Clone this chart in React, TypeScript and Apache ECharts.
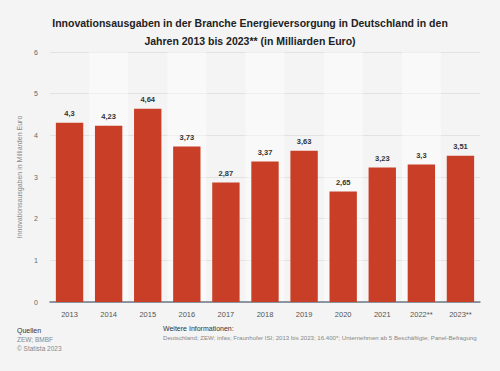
import React, { useEffect, useRef } from "react";
import * as echarts from "echarts";

const categories = ["2013", "2014", "2015", "2016", "2017", "2018", "2019", "2020", "2021", "2022**", "2023**"];
const values = [4.3, 4.23, 4.64, 3.73, 2.87, 3.37, 3.63, 2.65, 3.23, 3.3, 3.51];
const yTicks = [0, 1, 2, 3, 4, 5, 6];

const titleText = "Innovationsausgaben in der Branche Energieversorgung in Deutschland in den\nJahren 2013 bis 2023** (in Milliarden Euro)";

export default function App() {
  const ref = useRef<HTMLDivElement>(null);
  useEffect(() => {
    document.body.style.margin = "0";
    if (!ref.current) return;
    const chart = echarts.init(ref.current, null, { renderer: "svg" });
    const font = "Helvetica, Arial, 'Liberation Sans', sans-serif";
    chart.setOption({
      animation: false,
      backgroundColor: "#f4f4f4",
      textStyle: { fontFamily: font },
      title: {
        text: titleText,
        left: "center",
        top: 9,
        textStyle: { fontSize: 10.5, fontWeight: "bold", color: "#222", lineHeight: 18, fontFamily: font },
      },
      grid: { left: 50, right: 20, top: 52, bottom: 69 },
      xAxis: {
        type: "category",
        data: categories,
        axisLine: { show: true, lineStyle: { color: "#6b7a88", width: 1.5 } },
        axisTick: { show: false },
        axisLabel: { color: "#555", fontSize: 7.5, margin: 8 },
        splitArea: { show: true, areaStyle: { color: ["rgba(0,0,0,0)", "rgba(255,255,255,0.45)"] } },
      },
      yAxis: {
        type: "value",
        min: yTicks[0],
        max: yTicks[yTicks.length - 1],
        interval: 1,
        name: "Innovationsausgaben in Milliarden Euro",
        nameLocation: "middle",
        nameGap: 19,
        nameTextStyle: { color: "#888", fontSize: 7 },
        axisLine: { show: false },
        axisTick: { show: false },
        axisLabel: { color: "#666", fontSize: 7, margin: 12 },
        splitLine: { lineStyle: { color: "#e2e2e2", width: 1 } },
      },
      series: [
        {
          type: "bar",
          data: values,
          barWidth: "70%",
          itemStyle: { color: "#c93e26" },
          label: {
            show: true,
            position: "top",
            distance: 5,
            color: "#333",
            fontSize: 7.5,
            fontWeight: "bold",
            formatter: (p: any) => String(p.value).replace(".", ","),
          },
        },
      ],
      graphic: [
        { type: "text", left: 17, top: 327, style: { text: "Quellen", fontSize: 7, fill: "#333", fontFamily: font } },
        { type: "text", left: 17, top: 336, style: { text: "ZEW; BMBF", fontSize: 6.5, fill: "#888", fontFamily: font } },
        { type: "text", left: 17, top: 345, style: { text: "© Statista 2023", fontSize: 6.5, fill: "#888", fontFamily: font } },
        { type: "text", left: 163, top: 325, style: { text: "Weitere Informationen:", fontSize: 7, fill: "#333", fontFamily: font } },
        {
          type: "text",
          left: 163,
          top: 334,
          style: {
            text: "Deutschland; ZEW; infas; Fraunhofer ISI; 2013 bis 2023; 16.400*; Unternehmen ab 5 Beschäftigte; Panel-Befragung",
            fontSize: 6.1,
            fill: "#888",
            fontFamily: font,
          },
        },
      ],
    });
    return () => chart.dispose();
  }, []);
  return <div ref={ref} style={{ width: 500, height: 371 }} />;
}
